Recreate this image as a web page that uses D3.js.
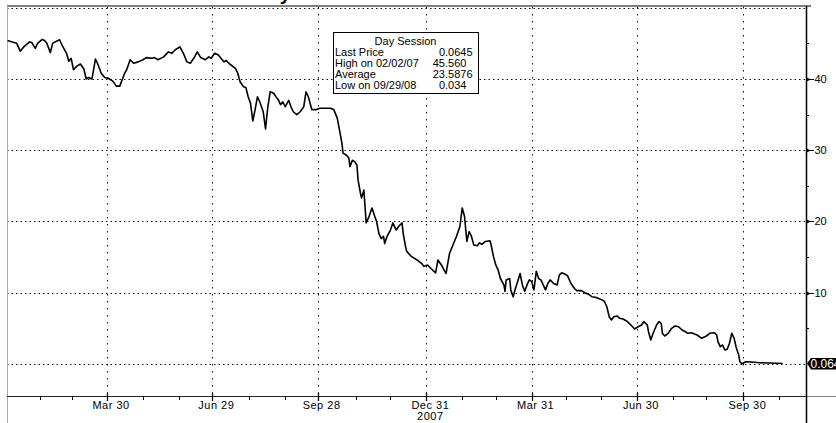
<!DOCTYPE html>
<html><head><meta charset="utf-8">
<script src="https://cdn.jsdelivr.net/npm/d3@7"></script>
<style>
html,body{margin:0;padding:0;background:#fff;}
svg{display:block;font-family:"Liberation Sans",Arial,sans-serif;}
</style></head>
<body><svg id="c" width="836" height="423"></svg>
<script>
const dates = [
"2007-01-03","2007-01-07","2007-01-11","2007-01-14","2007-01-17","2007-01-22","2007-01-24","2007-01-27","2007-01-29","2007-02-02",
"2007-02-04","2007-02-06","2007-02-09","2007-02-11","2007-02-13","2007-02-17","2007-02-19","2007-02-23","2007-02-25","2007-02-27",
"2007-03-01","2007-03-04","2007-03-07","2007-03-10","2007-03-12","2007-03-14","2007-03-17","2007-03-20","2007-03-22","2007-03-25",
"2007-03-28","2007-03-31","2007-04-04","2007-04-07","2007-04-10","2007-04-14","2007-04-16","2007-04-19","2007-04-22","2007-04-26",
"2007-04-30","2007-05-03","2007-05-08","2007-05-10","2007-05-13","2007-05-18","2007-05-22","2007-05-25","2007-05-28","2007-06-01",
"2007-06-04","2007-06-07","2007-06-10","2007-06-13","2007-06-16","2007-06-19","2007-06-23","2007-06-26","2007-06-28","2007-07-01",
"2007-07-04","2007-07-09","2007-07-11","2007-07-14","2007-07-19","2007-07-21","2007-07-23","2007-07-26","2007-07-28","2007-07-30",
"2007-08-01","2007-08-03","2007-08-05","2007-08-07","2007-08-09","2007-08-12","2007-08-14","2007-08-16","2007-08-18","2007-08-21",
"2007-08-23","2007-08-25","2007-08-27","2007-08-29","2007-08-31","2007-09-03","2007-09-05","2007-09-07","2007-09-10","2007-09-13",
"2007-09-16","2007-09-18","2007-09-20","2007-09-23","2007-09-27","2007-09-30","2007-10-04","2007-10-09","2007-10-12","2007-10-15",
"2007-10-17","2007-10-19","2007-10-20","2007-10-23","2007-10-25","2007-10-26","2007-10-28","2007-10-30","2007-11-01","2007-11-02",
"2007-11-04","2007-11-05","2007-11-07","2007-11-08","2007-11-09","2007-11-11","2007-11-14","2007-11-16","2007-11-18","2007-11-20",
"2007-11-22","2007-11-24","2007-11-25","2007-11-27","2007-11-30","2007-12-02","2007-12-05","2007-12-07","2007-12-10","2007-12-11",
"2007-12-13","2007-12-14","2007-12-18","2007-12-23","2007-12-27","2007-12-29",
"2008-01-01","2008-01-04","2008-01-08","2008-01-10","2008-01-13","2008-01-17","2008-01-20","2008-01-23","2008-01-26","2008-01-29",
"2008-01-31","2008-02-02","2008-02-04","2008-02-06","2008-02-08","2008-02-10","2008-02-13","2008-02-15","2008-02-17","2008-02-20",
"2008-02-24","2008-02-25","2008-02-27","2008-02-29","2008-03-02","2008-03-04","2008-03-07","2008-03-08","2008-03-09","2008-03-12",
"2008-03-13","2008-03-15","2008-03-17","2008-03-19","2008-03-21","2008-03-23","2008-03-25","2008-03-27","2008-03-29","2008-03-31",
"2008-04-02","2008-04-04","2008-04-06","2008-04-08","2008-04-10","2008-04-12","2008-04-14","2008-04-16","2008-04-19","2008-04-22",
"2008-04-24","2008-04-26","2008-04-29","2008-05-01","2008-05-04","2008-05-07","2008-05-09","2008-05-13","2008-05-16","2008-05-19",
"2008-05-22","2008-05-25","2008-05-28","2008-05-31","2008-06-02","2008-06-04","2008-06-06","2008-06-08","2008-06-10","2008-06-13",
"2008-06-15","2008-06-18","2008-06-21","2008-06-24","2008-06-28","2008-07-01","2008-07-04","2008-07-06","2008-07-09","2008-07-10",
"2008-07-12","2008-07-14","2008-07-17","2008-07-19","2008-07-21","2008-07-22","2008-07-24","2008-07-27","2008-07-30","2008-08-02",
"2008-08-05","2008-08-08","2008-08-11","2008-08-13","2008-08-16","2008-08-21","2008-08-25","2008-08-29","2008-09-01","2008-09-05",
"2008-09-07","2008-09-08","2008-09-10","2008-09-12","2008-09-14","2008-09-16","2008-09-18","2008-09-20","2008-09-22","2008-09-24",
"2008-09-26","2008-09-27","2008-09-29","2008-10-02","2008-10-07","2008-10-14","2008-10-23","2008-11-03"
];
const prices = [
45.4,45.2,45.0,43.9,44.5,45.2,45.1,44.3,45.0,45.56,
45.4,45.0,43.7,45.0,45.2,45.5,44.8,43.6,42.5,42.9,
41.3,41.8,42.1,41.4,40.0,40.2,40.0,42.8,42.1,40.8,
40.2,40.1,39.7,39.0,39.0,40.7,41.3,42.7,42.2,42.4,
42.7,43.0,42.9,43.0,42.7,43.1,43.8,43.6,44.1,44.5,
43.6,42.4,42.2,42.9,43.8,43.0,42.7,43.1,42.9,43.6,
43.4,42.4,42.6,42.1,41.5,40.8,39.6,38.9,38.8,37.5,
36.6,34.1,35.7,37.5,36.8,35.4,33.0,36.1,38.2,38.0,
37.5,37.1,36.4,36.8,36.1,37.0,36.1,35.4,35.0,35.4,
36.1,38.2,37.5,35.7,35.7,35.9,35.9,35.9,35.7,34.5,
32.8,31.0,29.6,29.3,28.9,27.7,28.6,28.4,27.9,25.8,
24.0,23.3,24.4,22.1,19.8,20.5,21.9,20.9,20.0,18.3,
17.6,17.9,16.9,17.9,18.8,19.8,18.8,19.3,19.8,18.3,
16.5,15.8,15.1,14.6,14.1,13.7,
13.9,13.4,12.8,14.6,13.9,12.7,15.5,16.7,17.9,19.3,
21.9,20.7,17.2,18.6,17.9,16.7,16.6,17.0,16.8,17.2,
17.3,16.7,15.1,13.9,13.2,12.0,11.1,10.2,11.8,12.0,
10.4,9.45,10.6,11.6,12.7,11.1,10.2,11.1,11.8,11.6,
10.4,13.0,12.0,11.8,11.1,10.4,11.3,11.8,11.3,11.1,
12.5,12.8,12.6,12.4,11.3,10.6,10.3,10.3,10.0,9.8,
9.45,9.36,9.2,9.0,8.74,8.04,6.64,6.18,6.64,6.74,
6.41,6.32,6.04,5.61,4.91,5.23,5.47,5.94,5.47,4.53,
3.37,4.31,5.47,5.94,5.71,4.31,3.93,4.31,5.01,5.33,
5.23,4.77,4.53,4.31,4.39,4.07,3.61,3.93,4.31,4.39,
4.07,3.13,2.43,2.67,1.96,2.06,2.91,4.31,3.61,2.2,
1.26,0.3,0.034,0.32,0.28,0.18,0.14,0.0645
];
const yTicks = [0,10,20,30,40,50];
const yLabels = ["10","20","30","40"];
const yLabelValues = [10,20,30,40];
const yMinor = [5,15,25,35,45];
const quarterDates = ["2007-03-30","2007-06-29","2007-09-28","2007-12-31","2008-03-31","2008-06-30","2008-09-30"];
const quarterLabels = ["Mar 30","Jun 29","Sep 28","Dec 31","Mar 31","Jun 30","Sep 30"];
const yearLabels = ["","","","2007","","",""];
const monthEnds = ["2007-01-31","2007-02-28","2007-04-30","2007-05-31","2007-07-31","2007-08-31","2007-10-31","2007-11-30",
"2008-01-31","2008-02-29","2008-04-30","2008-05-30","2008-07-31","2008-08-29","2008-10-31"];
const legendTitle = "Day Session";
const legendRows = [["Last Price","0.0645"],["High on 02/02/07","45.560"],["Average","23.5876"],["Low on 09/29/08","0.034"]];
const lastPriceLabel = "0.0645";

const parse = d3.utcParse("%Y-%m-%d");
const L = 7, R = 806, T = 7, B = 396;
const x = d3.scaleUtc().domain([parse("2007-01-01"), parse("2008-12-01")]).range([5.2, 815.1]);
const y = d3.scaleLinear().domain([-4.49, 50.1]).range([B, T]);

const svg = d3.select("#c");
svg.append("defs").append("clipPath").attr("id","clip")
  .append("rect").attr("x",L).attr("y",T-1).attr("width",R-L).attr("height",B-T+1);

// partially visible title (only the descender shows, as in the reference)
svg.append("text").attr("x",291).attr("y",0).attr("text-anchor","end")
  .attr("font-size",20).attr("font-weight","bold").text("Daily");

// gridlines
const grid = svg.append("g");
grid.selectAll("line.h").data(yTicks).join("line")
  .attr("x1",L).attr("x2",R).attr("y1",d=>Math.round(y(d))+0.5).attr("y2",d=>Math.round(y(d))+0.5)
  .attr("stroke","#111").attr("stroke-width",1).attr("stroke-dasharray","1.5,3");
grid.selectAll("line.v").data(quarterDates).join("line")
  .attr("x1",d=>Math.round(x(parse(d)))+0.5).attr("x2",d=>Math.round(x(parse(d)))+0.5)
  .attr("y1",T).attr("y2",B)
  .attr("stroke","#111").attr("stroke-width",1).attr("stroke-dasharray","1.5,5.5");

// borders
svg.append("line").attr("x1",L).attr("x2",811).attr("y1",6).attr("y2",6).attr("stroke","#000").attr("stroke-width",1.2);
svg.append("line").attr("x1",L+0.5).attr("x2",L+0.5).attr("y1",6).attr("y2",423).attr("stroke","#aaa");
svg.append("line").attr("x1",L).attr("x2",R).attr("y1",B+0.5).attr("y2",B+0.5).attr("stroke","#222");
svg.append("line").attr("x1",R).attr("x2",836).attr("y1",B+0.5).attr("y2",B+0.5).attr("stroke","#888");
svg.append("line").attr("x1",R+0.5).attr("x2",R+0.5).attr("y1",6).attr("y2",423).attr("stroke","#000").attr("stroke-width",1.5);

// price line
const line = d3.line().x((d,i)=>x(parse(dates[i]))).y(d=>y(d));
svg.append("path").datum(prices).attr("clip-path","url(#clip)")
  .attr("d",line).attr("fill","none").attr("stroke","#000").attr("stroke-width",1.6)
  .attr("stroke-linejoin","round");

// x axis ticks
const xa = svg.append("g");
xa.selectAll("line.mn").data(monthEnds).join("line")
  .attr("x1",d=>Math.round(x(parse(d)))+0.5).attr("x2",d=>Math.round(x(parse(d)))+0.5)
  .attr("y1",B).attr("y2",B+4).attr("stroke","#000");
xa.selectAll("line.mj").data(quarterDates).join("line")
  .attr("x1",d=>Math.round(x(parse(d)))+0.5).attr("x2",d=>Math.round(x(parse(d)))+0.5)
  .attr("y1",B-3).attr("y2",B+5).attr("stroke","#000").attr("stroke-width",1.3);
xa.selectAll("text.q").data(quarterDates).join("text")
  .attr("x",d=>x(parse(d))+4).attr("y",408.5).attr("text-anchor","middle")
  .attr("font-size",11).attr("letter-spacing","0.5px").attr("fill","#000")
  .text((d,i)=>quarterLabels[i]);
xa.selectAll("text.yr").data(quarterDates).join("text")
  .attr("x",d=>x(parse(d))+4).attr("y",419.5).attr("text-anchor","middle")
  .attr("font-size",11).attr("letter-spacing","0.5px").attr("fill","#000")
  .text((d,i)=>yearLabels[i]);

// y axis (right)
const ya = svg.append("g");
ya.selectAll("line.ymn").data(yMinor).join("line")
  .attr("x1",R).attr("x2",R+3).attr("y1",d=>Math.round(y(d))+0.5).attr("y2",d=>Math.round(y(d))+0.5)
  .attr("stroke","#000");
ya.selectAll("path.tri").data(yLabelValues).join("path")
  .attr("d",d=>{const yy=Math.round(y(d))+0.5;return `M${R},${yy-2.2}L${R+5},${yy}L${R},${yy+2.2}Z`;})
  .attr("fill","#000");
ya.selectAll("line.tk").data(yLabelValues).join("line")
  .attr("x1",R+4).attr("x2",R+8).attr("y1",d=>Math.round(y(d))+0.5).attr("y2",d=>Math.round(y(d))+0.5)
  .attr("stroke","#000");
ya.selectAll("text").data(yLabelValues).join("text")
  .attr("x",R+8.5).attr("y",d=>y(d)+4).attr("font-size",11).attr("fill","#000")
  .text((d,i)=>yLabels[i]);

// last price tag
const lp = y(prices[prices.length-1]);
svg.append("path")
  .attr("d",`M${R+1},${lp}L${R+5},${lp-5.5}L840,${lp-5.5}L840,${lp+6}L${R+5},${lp+6}Z`)
  .attr("fill","#000");
svg.append("text").attr("x",R+4.5).attr("y",lp+4.5).attr("font-size",12).attr("fill","#fff").text(lastPriceLabel);

// legend box
const lg = svg.append("g");
lg.append("rect").attr("x",333.5).attr("y",32.5).attr("width",145).attr("height",61)
  .attr("fill","#fff").attr("stroke","#000").attr("stroke-width",1);
lg.append("text").attr("x",405.5).attr("y",45).attr("text-anchor","middle").attr("font-size",11).text(legendTitle);
legendRows.forEach((r,i)=>{
  const yy = 56 + i*10.9;
  lg.append("text").attr("x",335).attr("y",yy).attr("font-size",11).text(r[0]);
  const parts = r[1].split(".");
  lg.append("text").attr("x",445).attr("y",yy).attr("font-size",11).attr("text-anchor","end").text(parts[0]);
  lg.append("text").attr("x",445).attr("y",yy).attr("font-size",11).text("."+parts[1]);
});
</script></body></html>
